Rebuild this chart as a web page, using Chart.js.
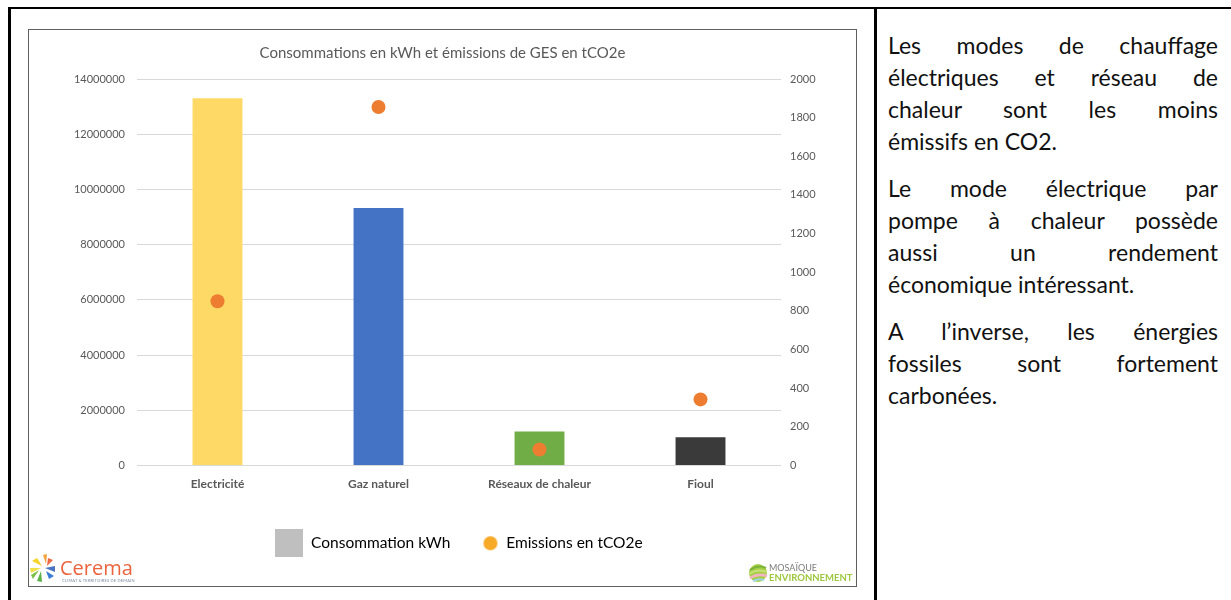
<!DOCTYPE html>
<html lang="fr">
<head>
<meta charset="utf-8">
<title>Consommations et émissions</title>
<script src="https://cdn.jsdelivr.net/npm/chart.js@4.4.0/dist/chart.umd.min.js"></script>
<style>
  body { margin: 0; background: #fff; font-family: Lato, "Open Sans", sans-serif; }
  #page { position: relative; width: 1231px; height: 600px; overflow: hidden; }
  .tbl-top { position: absolute; left: 8px; top: 7px; width: 1223px; height: 2px; background: #000; }
  .tbl-left { position: absolute; left: 8px; top: 7px; width: 3px; height: 593px; background: #000; }
  .tbl-mid { position: absolute; left: 874px; top: 7px; width: 3px; height: 593px; background: #000; }
  #chart-box { position: absolute; left: 28px; top: 29px; width: 827px; height: 556px; border: 1px solid #5f5f5f; }
  #chart-box canvas { position: absolute; left: 0; top: 0; }
  #notes { position: absolute; left: 888px; top: 29px; width: 330px; font-size: 23px; line-height: 32px; color: #111; }
  #notes p { margin: 0 0 15px 0; }
  #notes .ln { display: block; text-align: justify; text-align-last: justify; }
  #notes .ln.end { text-align-last: left; }
  .logo-cerema { position: absolute; left: 0px; top: 522px; width: 110px; height: 32px; }
  .logo-cerema .name { position: absolute; left: 31px; top: 2px; font-size: 20px; color: #ea643d; font-family: "Open Sans", sans-serif; }
  .logo-cerema .sub { position: absolute; left: 33px; top: 26px; font-size: 4px; color: #7a8aa0; letter-spacing: 0.2px; }
  .logo-mosaique { position: absolute; left: 719px; top: 532px; width: 110px; height: 24px; }
  .logo-mosaique .l1 { position: absolute; left: 21px; top: 0; font-size: 9px; color: #7d7d7d; }
  .logo-mosaique .l2 { position: absolute; left: 21px; top: 10px; font-size: 9.5px; font-weight: bold; color: #9fc840; }
</style>
</head>
<body>
<div id="page">
  <div class="tbl-top"></div>
  <div class="tbl-left"></div>
  <div class="tbl-mid"></div>

  <div id="chart-box">
    <canvas id="chart" width="827" height="556"></canvas>
    <div class="logo-cerema">
      <svg width="30" height="32" viewBox="0 0 30 32">
        <path d="M14 3 L18 2 L17 12 Z" fill="#f2a23a"/>
        <path d="M19 6 L24 8 L18 14 Z" fill="#ec6a43"/>
        <path d="M3 9 L8 6 L13 14 Z" fill="#f5d327"/>
        <path d="M1 16 L12 16 L2 21 Z" fill="#f0e04a"/>
        <path d="M16 16 L26 14 L26 20 Z" fill="#4a73c0"/>
        <path d="M17 19 L25 24 L20 27 Z" fill="#3a7bd5"/>
        <path d="M12 19 L13 30 L8 29 Z" fill="#5cb246"/>
        <path d="M10 18 L4 27 L2 23 Z" fill="#7cc04a"/>
      </svg>
      <span class="name">Cerema</span>
      <span class="sub">CLIMAT &amp; TERRITOIRES DE DEMAIN</span>
    </div>
    <div class="logo-mosaique">
      <svg width="20" height="22" viewBox="0 0 20 22">
        <circle cx="10" cy="11" r="9" fill="#a6cf45"/>
        <path d="M2 8 Q10 2 18 6" stroke="#7bb23a" stroke-width="2" fill="none"/>
        <path d="M1 12 Q10 6 19 10" stroke="#c7e07a" stroke-width="2" fill="none"/>
        <path d="M2 16 Q10 11 19 14" stroke="#f3b3c0" stroke-width="2.5" fill="none"/>
        <path d="M5 19 Q11 16 16 18" stroke="#9fd3e6" stroke-width="2" fill="none"/>
      </svg>
      <span class="l1">MOSAÏQUE</span>
      <span class="l2">ENVIRONNEMENT</span>
    </div>
  </div>

  <div id="notes">
    <p>
      <span class="ln">Les modes de chauffage</span>
      <span class="ln">électriques et réseau de</span>
      <span class="ln">chaleur sont les moins</span>
      <span class="ln end">émissifs en CO2.</span>
    </p>
    <p>
      <span class="ln">Le mode électrique par</span>
      <span class="ln">pompe à chaleur possède</span>
      <span class="ln">aussi un rendement</span>
      <span class="ln end">économique intéressant.</span>
    </p>
    <p>
      <span class="ln">A l’inverse, les énergies</span>
      <span class="ln">fossiles sont fortement</span>
      <span class="ln end">carbonées.</span>
    </p>
  </div>
</div>

<script>
// Data
const categories = ["Electricité", "Gaz naturel", "Réseaux de chaleur", "Fioul"];
const consumptionKwh = [13300000, 9330000, 1230000, 1020000];
const emissionsTco2e = [850, 1855, 83, 342];
const barColors = ["#ffd966", "#4472c4", "#70ad47", "#3a3a3a"];
const leftTicks = [0, 2000000, 4000000, 6000000, 8000000, 10000000, 12000000, 14000000];
const rightTicks = [0, 200, 400, 600, 800, 1000, 1200, 1400, 1600, 1800, 2000];

const TEXT_GREY = "#595959";
const DOT_ORANGE = "#ed7d31";

Chart.defaults.font.family = "Lato, 'Open Sans', sans-serif";
Chart.defaults.color = TEXT_GREY;

// Legend markers (grey square, orange dot)
function makeSquare(size, color) {
  const c = document.createElement("canvas");
  c.width = size; c.height = size;
  const g = c.getContext("2d");
  g.fillStyle = color;
  g.fillRect(0, 0, size, size);
  return c;
}
function makeDot(w, h, cx, r, color) {
  const c = document.createElement("canvas");
  c.width = w; c.height = h;
  const g = c.getContext("2d");
  g.fillStyle = color;
  g.beginPath();
  g.arc(cx, h / 2, r, 0, Math.PI * 2);
  g.fill();
  return c;
}
const squareMarker = makeSquare(28, "#bfbfbf");
const dotMarker = makeDot(40, 16, 26, 7, "#f7a928");

// Chart
const ctx = document.getElementById("chart").getContext("2d");
new Chart(ctx, {
  data: {
    labels: categories,
    datasets: [
      {
        type: "line",
        label: "Emissions en tCO2e",
        data: emissionsTco2e,
        yAxisID: "y1",
        showLine: false,
        pointRadius: 7,
        pointHoverRadius: 7,
        pointBackgroundColor: DOT_ORANGE,
        pointBorderWidth: 0,
        order: 0
      },
      {
        type: "bar",
        label: "Consommation kWh",
        data: consumptionKwh,
        yAxisID: "y",
        backgroundColor: barColors,
        borderWidth: 0,
        barPercentage: 1,
        categoryPercentage: 0.31,
        order: 1
      }
    ]
  },
  options: {
    responsive: false,
    animation: false,
    layout: { padding: { left: 0, right: 0, top: 0, bottom: 25 } },
    plugins: {
      tooltip: { enabled: false },
      title: {
        display: true,
        text: "Consommations en kWh et émissions de GES en tCO2e",
        color: TEXT_GREY,
        font: { size: 15, weight: "normal" },
        padding: { top: 14, bottom: 17 }
      },
      legend: {
        position: "bottom",
        fullSize: false,
        labels: {
          usePointStyle: true,
          pointStyleWidth: 28,
          padding: 20,
          color: "#404040",
          font: { size: 15.5 },
          generateLabels: () => [
            { text: "Consommation kWh", pointStyle: squareMarker, fillStyle: "#bfbfbf", lineWidth: 0, strokeStyle: "rgba(0,0,0,0)", hidden: false, datasetIndex: 1 },
            { text: "Emissions en tCO2e", pointStyle: dotMarker, fillStyle: "#f7a928", lineWidth: 0, strokeStyle: "rgba(0,0,0,0)", hidden: false, datasetIndex: 0 }
          ]
        }
      }
    },
    scales: {
      x: {
        grid: { display: false, drawTicks: false },
        border: { display: false },
        ticks: { padding: 11, color: TEXT_GREY, font: { size: 12, weight: "bold" } },
        afterFit: (scale) => { scale.height = 50; }
      },
      y: {
        position: "left",
        min: 0,
        max: 14000000,
        afterBuildTicks: (scale) => { scale.ticks = leftTicks.map(v => ({ value: v })); },
        grid: { color: "#d9d9d9", drawTicks: false },
        border: { display: false },
        ticks: { padding: 12, color: TEXT_GREY, font: { size: 11 }, callback: (v) => String(v) },
        afterFit: (scale) => { scale.width = 108; }
      },
      y1: {
        position: "right",
        min: 0,
        max: 2000,
        afterBuildTicks: (scale) => { scale.ticks = rightTicks.map(v => ({ value: v })); },
        grid: { display: false, drawTicks: false },
        border: { display: false },
        ticks: { padding: 9, color: TEXT_GREY, font: { size: 11 }, callback: (v) => String(v) },
        afterFit: (scale) => { scale.width = 75; }
      }
    }
  }
});
</script>
</body>
</html>
